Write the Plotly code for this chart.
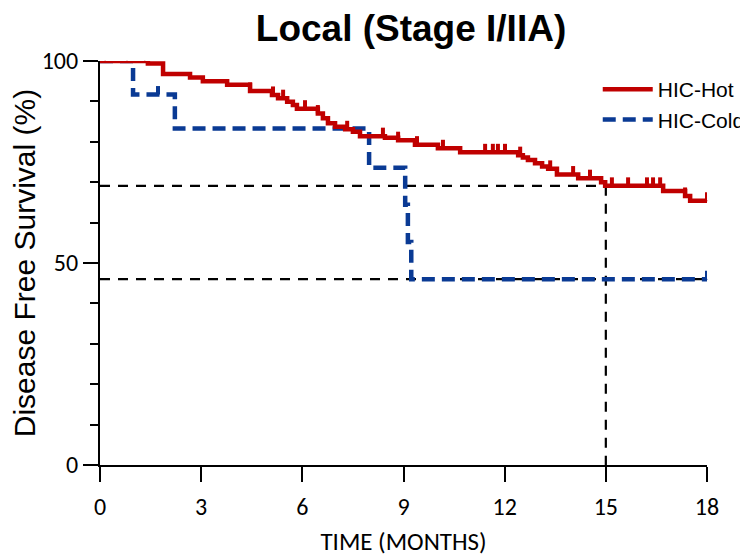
import plotly.graph_objects as go

# ---------------- data ----------------
hot_event_months = [1.42, 1.87, 2.67, 3.05, 3.77, 4.45, 5.10, 5.28, 5.55, 5.72, 5.84,
                    6.46, 6.61, 6.76, 6.97, 7.27, 7.50, 7.71, 8.45, 8.84, 9.34, 10.02,
                    10.68, 12.40, 12.54, 12.69, 12.90, 13.11, 13.29, 13.55, 14.18, 14.86,
                    14.98, 16.70, 17.35, 17.50]
hot_survival = [99.4, 96.8, 95.9, 95.0, 94.1, 92.6, 91.6, 90.8, 89.9, 89.1, 88.2,
                87.0, 85.8, 84.6, 83.7, 83.1, 82.5, 81.4, 81.0, 80.4, 79.3, 78.4,
                77.4, 76.7, 76.1, 75.5, 74.7, 73.9, 73.3, 71.9, 71.0, 70.0,
                69.1, 67.8, 66.6, 65.4]
hot_censor_months = [0.15, 0.80, 1.33, 4.45, 5.13, 5.43, 6.08, 6.46, 7.33, 8.39, 8.84,
                     9.40, 10.17, 11.42, 11.65, 11.80, 12.01, 12.46, 13.35, 14.03, 14.53,
                     15.18, 15.66, 16.22, 16.40, 16.61, 17.35, 18.0]

cold_event_months = [0.98, 2.22, 7.98, 9.05, 9.13, 9.23]
cold_survival = [91.7, 83.3, 73.6, 64.4, 55.2, 46.0]
cold_censor_months = [1.72, 18.0]

x_tick_values = [0, 3, 6, 9, 12, 15, 18]
y_tick_values = [0, 50, 100]
y_minor_values = [10, 20, 30, 40, 60, 70, 80, 90]
landmark_month = 15
end_month = 18
start_survival = 100

HOT = "#C00000"
COLD = "#0A3A94"
TICK_FONT = "Carlito, Lato, sans-serif"
ARIAL = "Liberation Sans, Arial, sans-serif"

# the page body has an 8px margin, so the figure is drawn 8px in from the window edge
W, H = 740, 549


def step_xy(events, surv, end):
    xs = [0] + list(events) + [end]
    ys = [start_survival] + list(surv) + [surv[-1]]
    return xs, ys


def value_at(events, surv, t):
    v = start_survival
    for e, s in zip(events, surv):
        if e <= t:
            v = s
    return v


fig = go.Figure()

# reference dashed lines
hot_at_landmark = value_at(hot_event_months, hot_survival, landmark_month)
cold_final = cold_survival[-1]
ref_style = dict(color="black", width=2.2, dash="10px,8px")
fig.add_trace(go.Scatter(x=[0, landmark_month], y=[hot_at_landmark, hot_at_landmark],
                         mode="lines", line=ref_style, showlegend=False, hoverinfo="skip"))
fig.add_trace(go.Scatter(x=[landmark_month, landmark_month], y=[hot_at_landmark, 0],
                         mode="lines", line=ref_style, showlegend=False, hoverinfo="skip"))
fig.add_trace(go.Scatter(x=[0, end_month], y=[cold_final, cold_final],
                         mode="lines", line=ref_style, showlegend=False, hoverinfo="skip"))

# curves
hx, hy = step_xy(hot_event_months, hot_survival, end_month)
cx, cy = step_xy(cold_event_months, cold_survival, end_month)

fig.add_trace(go.Scatter(x=cx, y=cy, mode="lines", line_shape="hv", name="HIC-Cold",
                         line=dict(color=COLD, width=4.5, dash="13px,7px"),
                         cliponaxis=False, legendrank=2, legendgroup="c"))
fig.add_trace(go.Scatter(x=hx, y=hy, mode="lines", line_shape="hv", name="HIC-Hot",
                         line=dict(color=HOT, width=4.5),
                         cliponaxis=False, legendrank=1, legendgroup="h"))

# censor ticks
for months, ev, sv, col in [(hot_censor_months, hot_event_months, hot_survival, HOT),
                            (cold_censor_months, cold_event_months, cold_survival, COLD)]:
    ys = [value_at(ev, sv, m) for m in months]
    fig.add_trace(go.Scatter(x=months, y=ys, mode="markers",
                             marker=dict(size=1, color=col),
                             error_y=dict(type="constant", value=2.1, valueminus=0,
                                          symmetric=False, width=0, thickness=4, color=col),
                             cliponaxis=False, showlegend=False, hoverinfo="skip"))

fig.update_layout(
    width=W, height=H,
    margin=dict(l=92, r=41, t=53, b=92, autoexpand=False),
    plot_bgcolor="white", paper_bgcolor="white",
    title=dict(text="<b>Local (Stage I/IIA)</b>", x=403 / W, xanchor="center",
               y=1 - 20 / H, yanchor="middle",
               font=dict(family=ARIAL, size=37, color="black")),
    legend=dict(x=0.82, y=0.98, xanchor="left", yanchor="top", itemwidth=50,
                font=dict(family=ARIAL, size=21, color="black"),
                bgcolor="rgba(0,0,0,0)", tracegroupgap=6, traceorder="normal"),
    showlegend=True,
)

fig.update_xaxes(range=[0, end_month], tickvals=x_tick_values, ticks="outside",
                 ticklen=15, tickwidth=2, tickcolor="black", ticklabelstandoff=4,
                 showline=True, linewidth=2, linecolor="black", automargin=False,
                 showgrid=False, zeroline=False,
                 tickfont=dict(family=TICK_FONT, size=24, color="black"),
                 title=dict(text="TIME (MONTHS)", standoff=17,
                            font=dict(family=TICK_FONT, size=25, color="black")))
fig.update_yaxes(range=[0, 100], tickvals=y_tick_values, ticks="outside",
                 ticklen=15, tickwidth=2, tickcolor="black", automargin=False,
                 minor=dict(tickvals=y_minor_values, ticks="outside", ticklen=8,
                            tickwidth=2, tickcolor="black"),
                 showline=True, linewidth=2, linecolor="black",
                 showgrid=False, zeroline=False,
                 tickfont=dict(family=TICK_FONT, size=24, color="black"),
                 title=dict(text="Disease Free Survival (%)", standoff=1,
                            font=dict(family=ARIAL, size=30, color="black")))

fig.write_html("out.html")
